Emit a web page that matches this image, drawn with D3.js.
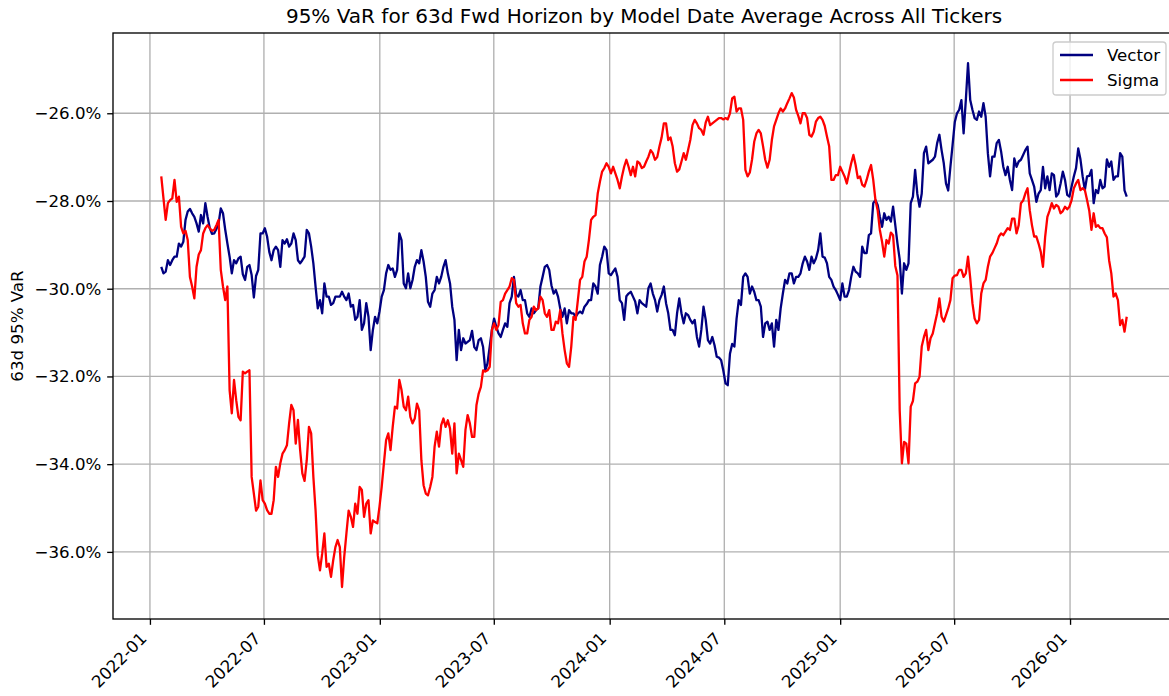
<!DOCTYPE html>
<html>
<head>
<meta charset="utf-8">
<script src="https://cdn.jsdelivr.net/npm/d3@7"></script>
<style>
    body { margin: 0; background: #fff; }
    svg { display: block; font-family: "DejaVu Sans", sans-serif; }
</style>
</head>
<body>
<div id="chart"></div>
<script>
// model dates: twice a week (every 84 hours), starting 2022-01-19
var startDate = "2022-01-19";
var stepHours = 84;

// 63d 95% VaR in percent, average across all tickers
var vectorVaR = [
    -29.50, -29.65, -29.61, -29.35, -29.46, -29.35, -29.27, -29.27, -28.97, -29.04,
    -28.93, -28.43, -28.24, -28.18, -28.28, -28.36, -28.51, -28.70, -28.32, -28.51,
    -28.05, -28.36, -28.62, -28.75, -28.74, -28.64, -28.51, -28.17, -28.28, -28.65,
    -28.97, -29.27, -29.65, -29.35, -29.42, -29.31, -29.27, -29.67, -29.80, -29.50,
    -29.46, -29.69, -30.20, -29.71, -29.57, -28.74, -28.74, -28.62, -28.81, -29.16,
    -29.35, -29.12, -29.04, -29.12, -29.50, -28.89, -28.97, -28.87, -29.04, -28.97,
    -28.74, -28.89, -29.35, -29.42, -29.35, -29.27, -28.66, -28.74, -29.04, -29.42,
    -29.95, -30.45, -30.26, -30.56, -29.88, -30.18, -30.18, -30.37, -30.33, -30.18,
    -30.18, -30.18, -30.07, -30.18, -30.26, -30.11, -30.41, -30.37, -30.71, -30.64,
    -30.26, -30.94, -30.79, -30.33, -30.64, -31.40, -30.94, -30.64, -30.79, -30.52,
    -30.18, -30.03, -29.65, -29.46, -29.57, -29.54, -29.73, -29.57, -28.74, -28.89,
    -29.88, -29.99, -29.65, -29.99, -29.80, -29.50, -29.35, -29.42, -29.12, -29.38,
    -29.73, -30.30, -30.41, -30.11, -30.03, -29.73, -29.88, -29.73, -29.50, -29.35,
    -29.65, -29.88, -30.41, -30.71, -31.63, -30.94, -31.40, -31.13, -31.25, -31.21,
    -31.17, -30.96, -31.33, -31.40, -31.17, -31.13, -31.33, -31.86, -31.70, -31.32,
    -30.94, -30.68, -30.87, -31.02, -31.10, -30.94, -30.79, -30.87, -30.33, -30.18,
    -29.73, -30.14, -30.18, -30.03, -30.26, -30.26, -30.56, -30.64, -30.45, -30.56,
    -30.49, -30.45, -29.95, -29.73, -29.50, -29.46, -29.57, -29.92, -30.11, -30.03,
    -30.18, -30.45, -30.64, -30.45, -30.79, -30.49, -30.56, -30.56, -30.64, -30.56,
    -30.52, -30.56, -30.41, -30.35, -30.26, -30.26, -29.88, -29.95, -30.11, -29.46,
    -29.27, -29.04, -29.12, -29.65, -29.69, -29.61, -29.54, -29.73, -30.26, -30.33,
    -30.71, -30.17, -30.11, -30.07, -30.18, -30.29, -30.56, -30.26, -30.33, -30.37,
    -30.41, -29.99, -29.88, -30.11, -30.26, -30.52, -30.26, -30.14, -29.95, -30.33,
    -30.56, -30.94, -30.94, -31.06, -30.56, -30.22, -30.56, -30.79, -30.56, -30.60,
    -30.71, -30.79, -30.71, -31.10, -31.32, -30.94, -30.41, -30.71, -31.17, -31.25,
    -31.10, -31.29, -31.55, -31.57, -31.63, -31.87, -32.16, -32.20, -31.48, -31.26,
    -31.32, -30.68, -30.26, -30.37, -29.73, -29.65, -29.73, -30.11, -29.95, -30.07,
    -30.26, -30.26, -30.41, -31.10, -30.79, -30.75, -30.94, -30.79, -31.32, -30.71,
    -30.94, -30.45, -30.11, -29.80, -29.88, -29.65, -29.65, -29.88, -29.73, -29.73,
    -29.65, -29.42, -29.27, -29.38, -29.57, -29.27, -29.42, -29.31, -29.12, -28.74,
    -29.27, -29.29, -29.42, -29.73, -29.80, -29.95, -30.03, -30.14, -30.26, -29.88,
    -30.18, -30.18, -30.03, -29.73, -29.50, -29.61, -29.65, -29.73, -29.04, -29.19,
    -29.19, -28.78, -28.74, -28.05, -27.98, -28.09, -28.36, -28.59, -28.28, -28.43,
    -28.36, -28.47, -28.13, -28.55, -28.97, -29.33, -30.11, -29.42, -29.57, -29.42,
    -28.05, -27.90, -27.29, -27.84, -28.13, -27.83, -26.91, -26.76, -27.14, -27.10,
    -27.06, -26.99, -26.68, -26.49, -26.84, -27.14, -27.60, -27.76, -27.22, -26.72,
    -26.20, -26.00, -25.92, -25.70, -26.46, -25.70, -24.86, -25.70, -25.92, -26.11,
    -26.15, -25.96, -26.08, -25.77, -26.08, -26.91, -27.44, -26.99, -26.99, -26.68,
    -26.61, -26.87, -27.22, -27.41, -27.22, -27.52, -27.75, -27.03, -27.22, -27.10,
    -27.06, -26.95, -26.84, -26.76, -27.37, -27.52, -27.67, -28.02, -27.83, -27.75,
    -27.22, -27.71, -27.44, -27.75, -27.37, -27.41, -27.90, -27.83, -27.60, -27.33,
    -27.52, -27.86, -27.90, -27.67, -27.44, -27.25, -26.80, -27.05, -27.44, -27.75,
    -27.44, -27.43, -27.29, -28.05, -27.75, -27.82, -27.52, -27.71, -27.67, -27.05,
    -27.22, -27.10, -27.52, -27.44, -27.44, -26.91, -26.99, -27.76, -27.90
];
var sigmaVaR = [
    -27.44, -27.94, -28.43, -28.05, -27.98, -27.94, -27.52, -28.02, -27.90, -28.59,
    -28.74, -28.68, -28.89, -29.73, -29.95, -30.22, -29.50, -29.22, -29.12, -28.74,
    -28.62, -28.55, -28.62, -28.68, -28.66, -28.55, -28.43, -29.57, -29.95, -30.26,
    -29.95, -32.31, -32.84, -32.08, -32.54, -32.92, -33.00, -31.89, -31.93, -31.89,
    -31.86, -34.29, -34.67, -35.06, -34.97, -34.37, -34.82, -34.90, -35.05, -35.13,
    -35.13, -34.82, -34.06, -34.29, -33.98, -33.76, -33.68, -33.57, -33.07, -32.65,
    -32.77, -33.53, -32.99, -33.68, -34.21, -34.38, -33.91, -33.15, -33.30, -34.29,
    -35.05, -36.08, -36.42, -36.04, -35.58, -36.34, -36.27, -36.57, -36.19, -35.89,
    -35.73, -35.89, -36.80, -36.11, -35.58, -35.06, -35.20, -35.43, -34.90, -35.13,
    -34.52, -34.59, -35.20, -34.90, -34.82, -35.58, -35.28, -35.32, -35.35, -34.97,
    -34.52, -33.98, -33.45, -33.30, -33.68, -33.15, -32.69, -32.73, -32.08, -32.31,
    -32.69, -32.77, -32.46, -32.92, -33.07, -32.96, -32.62, -32.77, -33.91, -34.48,
    -34.67, -34.71, -34.52, -34.29, -33.60, -33.26, -33.60, -33.11, -32.96, -33.15,
    -33.00, -33.19, -33.76, -33.07, -34.21, -33.76, -33.91, -34.06, -33.22, -32.88,
    -33.07, -33.38, -33.38, -32.65, -32.39, -32.24, -31.86, -31.89, -31.86, -31.78,
    -30.94, -30.79, -30.94, -30.83, -30.30, -30.26, -30.11, -30.03, -29.95, -29.76,
    -29.80, -30.33, -30.41, -30.37, -30.79, -31.02, -31.02, -30.71, -30.64, -30.41,
    -30.49, -30.45, -30.18, -30.26, -30.56, -30.64, -30.49, -30.94, -30.94, -30.75,
    -30.79, -30.49, -31.02, -31.40, -31.70, -31.78, -31.32, -30.64, -30.71, -30.26,
    -29.80, -29.73, -29.38, -29.27, -28.89, -28.43, -28.36, -28.32, -27.83, -27.56,
    -27.33, -27.25, -27.14, -27.22, -27.37, -27.22, -27.37, -27.52, -27.71, -27.44,
    -27.22, -27.06, -27.22, -27.41, -27.22, -27.44, -27.10, -27.14, -27.25, -27.22,
    -27.10, -26.99, -26.84, -26.91, -27.06, -27.00, -26.76, -26.55, -26.23, -26.23,
    -26.61, -26.55, -26.76, -27.14, -27.33, -27.28, -27.10, -26.91, -27.06, -26.84,
    -26.61, -26.27, -26.15, -26.23, -26.34, -26.38, -26.49, -26.21, -26.08, -26.27,
    -26.23, -26.19, -26.15, -26.11, -26.11, -26.14, -26.11, -26.14, -26.00, -25.66,
    -25.62, -25.96, -25.89, -25.89, -26.15, -27.29, -27.44, -27.35, -27.06, -26.65,
    -26.46, -26.38, -26.46, -26.75, -27.06, -27.24, -27.06, -26.61, -26.30, -26.15,
    -26.00, -25.89, -25.96, -25.89, -25.77, -25.66, -25.54, -25.64, -25.92, -26.06,
    -26.23, -26.00, -26.00, -26.11, -26.49, -26.53, -26.42, -26.19, -26.11, -26.08,
    -26.15, -26.29, -26.53, -26.75, -27.52, -27.52, -27.41, -27.41, -27.22, -27.33,
    -27.44, -27.60, -27.37, -27.14, -26.95, -27.18, -27.48, -27.44, -27.63, -27.67,
    -27.52, -27.33, -27.18, -27.52, -27.98, -28.21, -28.66, -28.93, -29.27, -28.89,
    -28.97, -28.72, -28.78, -29.48, -29.70, -32.77, -33.98, -33.49, -33.53, -33.98,
    -32.69, -32.56, -32.16, -32.12, -32.01, -31.32, -31.10, -30.94, -31.40, -31.13,
    -31.02, -30.79, -30.56, -30.22, -30.64, -30.75, -30.60, -30.45, -30.26, -29.76,
    -29.70, -29.69, -29.57, -29.57, -29.73, -29.65, -29.27, -29.76, -30.33, -30.68,
    -30.79, -30.71, -30.11, -29.88, -29.80, -29.50, -29.27, -29.19, -29.08, -28.97,
    -28.81, -28.74, -28.78, -28.70, -28.62, -28.66, -28.40, -28.40, -28.74, -28.55,
    -28.05, -27.99, -27.83, -27.71, -28.21, -28.55, -28.81, -28.81, -28.97, -29.16,
    -29.50, -28.81, -28.36, -28.22, -28.05, -28.17, -28.09, -28.13, -28.28, -28.23,
    -28.13, -28.19, -28.13, -27.98, -27.71, -27.60, -27.52, -27.75, -27.71, -27.75,
    -27.98, -28.22, -28.66, -28.28, -28.59, -28.55, -28.62, -28.62, -28.74, -28.83,
    -29.35, -29.65, -30.18, -30.11, -30.26, -30.83, -30.71, -30.98, -30.64
];

var seriesNames = ["Vector", "Sigma"];
var seriesColors = ["#000080", "#ff0000"];
var yTicks = [-36, -34, -32, -30, -28, -26];
var xTicks = ["2022-01", "2022-07", "2023-01", "2023-07", "2024-01",
              "2024-07", "2025-01", "2025-07", "2026-01"];

var titleText = "95% VaR for 63d Fwd Horizon by Model Date Average Across All Tickers";
var yLabelText = "63d 95% VaR";

function drawChart() {
    // 0. sizes
    var W = 1169, H = 696;
    var margin = {top: 33, left: 113, bottom: 619, right: 1175};
    var fs = 16.67;      // 10pt at 120 dpi
    var tickLen = 5.83;

    var parseDay = d3.utcParse("%Y-%m-%d");
    var parseMonth = d3.utcParse("%Y-%m");
    var t0 = parseDay(startDate);
    var dates = vectorVaR.map(function (d, i) { return d3.utcHour.offset(t0, i * stepHours); });

    var series = [vectorVaR, sigmaVaR].map(function (vals, k) {
        return {
            name: seriesNames[k],
            color: seriesColors[k],
            points: vals.map(function (v, i) { return {date: dates[i], v: v}; })
        };
    });

    // 1. scales (5% padding on dates like matplotlib)
    var ext = d3.extent(dates);
    var pad = (ext[1] - ext[0]) * 0.05;
    var x = d3.scaleUtc()
        .domain([new Date(+ext[0] - pad), new Date(+ext[1] + pad)])
        .range([margin.left, margin.right]);
    var y = d3.scaleLinear()
        .domain([-37.53, -24.17])
        .range([margin.bottom, margin.top]);

    var svg = d3.select("#chart").append("svg")
        .attr("width", W).attr("height", H);

    svg.append("defs").append("clipPath").attr("id", "plotclip")
        .append("rect")
        .attr("x", margin.left).attr("y", margin.top)
        .attr("width", margin.right - margin.left)
        .attr("height", margin.bottom - margin.top);

    // 2. grid
    var grid = svg.append("g").attr("stroke", "#b0b0b0").attr("stroke-width", 1.33);
    grid.selectAll(".hgrid").data(yTicks).enter().append("line")
        .attr("class", "hgrid")
        .attr("x1", margin.left).attr("x2", margin.right)
        .attr("y1", function (d) { return y(d); })
        .attr("y2", function (d) { return y(d); });
    grid.selectAll(".vgrid").data(xTicks).enter().append("line")
        .attr("class", "vgrid")
        .attr("x1", function (d) { return x(parseMonth(d)); })
        .attr("x2", function (d) { return x(parseMonth(d)); })
        .attr("y1", margin.top).attr("y2", margin.bottom);

    // 3. lines
    var line = d3.line()
        .x(function (d) { return x(d.date); })
        .y(function (d) { return y(d.v); });

    svg.append("g").attr("clip-path", "url(#plotclip)")
        .selectAll(".series").data(series).enter().append("path")
        .attr("class", "series")
        .attr("d", function (d) { return line(d.points); })
        .attr("fill", "none")
        .attr("stroke", function (d) { return d.color; })
        .attr("stroke-width", 2.3)
        .attr("stroke-linejoin", "round")
        .attr("stroke-linecap", "butt");

    // 4. spines
    svg.append("rect")
        .attr("x", margin.left).attr("y", margin.top)
        .attr("width", margin.right - margin.left)
        .attr("height", margin.bottom - margin.top)
        .attr("fill", "none").attr("stroke", "#000").attr("stroke-width", 1.33);

    // 5. axes
    var fmtPct = d3.format(".1f");
    var yAxis = d3.axisLeft(y)
        .tickValues(yTicks)
        .tickSize(tickLen).tickPadding(tickLen)
        .tickFormat(function (d) { return fmtPct(d) + "%"; });
    var gy = svg.append("g")
        .attr("transform", "translate(" + margin.left + ",0)")
        .call(yAxis);
    gy.select(".domain").remove();
    gy.selectAll("line").attr("stroke", "#000").attr("stroke-width", 1.33);
    gy.selectAll("text")
        .attr("fill", "#000")
        .style("font-size", fs + "px")
        .style("font-family", "DejaVu Sans, sans-serif");

    var xAxis = d3.axisBottom(x)
        .tickValues(xTicks.map(parseMonth))
        .tickSize(tickLen)
        .tickFormat(d3.utcFormat("%Y-%m"));
    var gx = svg.append("g")
        .attr("transform", "translate(0," + margin.bottom + ")")
        .call(xAxis);
    gx.select(".domain").remove();
    gx.selectAll("line").attr("stroke", "#000").attr("stroke-width", 1.33);
    gx.selectAll("text")
        .attr("fill", "#000")
        .attr("y", null).attr("dy", null)
        .attr("text-anchor", "end")
        .attr("transform", "translate(-2.6,20.5) rotate(-45)")
        .style("font-size", fs + "px")
        .style("font-family", "DejaVu Sans, sans-serif");

    // 6. title + y label
    svg.append("text")
        .attr("x", (margin.left + margin.right) / 2)
        .attr("y", 23)
        .attr("text-anchor", "middle")
        .style("font-size", "20px")
        .text(titleText);

    svg.append("text")
        .attr("transform", "translate(23.3," + (margin.top + margin.bottom) / 2 + ") rotate(-90)")
        .attr("text-anchor", "middle")
        .style("font-size", fs + "px")
        .text(yLabelText);

    // 7. legend
    var lg = svg.append("g");
    lg.append("rect")
        .attr("x", 1053).attr("y", 42)
        .attr("width", 113).attr("height", 53)
        .attr("rx", 3.3)
        .attr("fill", "#fff").attr("fill-opacity", 0.8)
        .attr("stroke", "#cccccc").attr("stroke-width", 1.33);
    var items = lg.selectAll(".item").data(series).enter().append("g")
        .attr("class", "item")
        .attr("transform", function (d, i) { return "translate(0," + (55 + i * 25) + ")"; });
    items.append("line")
        .attr("x1", 1060).attr("x2", 1093)
        .attr("stroke", function (d) { return d.color; })
        .attr("stroke-width", 2.3);
    items.append("text")
        .attr("x", 1107).attr("y", 6)
        .style("font-size", fs + "px")
        .text(function (d) { return d.name; });
}
drawChart();
</script>
</body>
</html>
